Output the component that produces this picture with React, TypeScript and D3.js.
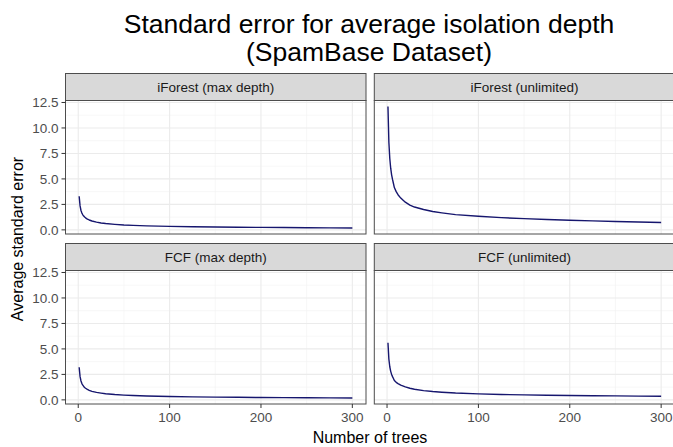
import React from "react";
import * as d3 from "d3";

const trees = [1, 2, 3, 4, 5, 6, 7, 8, 10, 12, 15, 20, 25, 30, 40, 50, 60, 75, 100, 125, 150, 175, 200, 225, 250, 275, 300];
const iforestMax = [3.3, 2.35, 1.9, 1.65, 1.48, 1.35, 1.26, 1.18, 1.06, 0.97, 0.87, 0.76, 0.68, 0.62, 0.54, 0.48, 0.44, 0.39, 0.34, 0.3, 0.28, 0.26, 0.24, 0.23, 0.21, 0.2, 0.19];
const iforestUnl = [12.1, 8.6, 7.0, 6.05, 5.4, 4.95, 4.55, 4.15, 3.75, 3.45, 3.12, 2.72, 2.43, 2.24, 2.0, 1.8, 1.67, 1.5, 1.33, 1.2, 1.1, 1.02, 0.95, 0.88, 0.82, 0.77, 0.72];
const fcfMax = [3.2, 2.28, 1.85, 1.6, 1.44, 1.32, 1.22, 1.14, 1.03, 0.94, 0.84, 0.73, 0.66, 0.6, 0.52, 0.47, 0.43, 0.38, 0.33, 0.29, 0.27, 0.25, 0.23, 0.22, 0.21, 0.2, 0.19];
const fcfUnl = [5.6, 4.0, 3.25, 2.8, 2.5, 2.28, 2.1, 1.9, 1.72, 1.6, 1.45, 1.27, 1.14, 1.04, 0.91, 0.82, 0.75, 0.67, 0.59, 0.53, 0.49, 0.46, 0.43, 0.41, 0.39, 0.37, 0.36];
const panelTitles = ["iForest (max depth)", "iForest (unlimited)", "FCF (max depth)", "FCF (unlimited)"];
const seriesList = [iforestMax, iforestUnl, fcfMax, fcfUnl];
const yTicks = [0, 2.5, 5, 7.5, 10, 12.5];
const yMinor = [1.25, 3.75, 6.25, 8.75, 11.25];
const xTicks = [0, 100, 200, 300];
const xMinor = [50, 150, 250];

const W = 673, H = 447;
const colX = [65.5, 374.3];
const panelW = 300.5;
const rowStripTop = [73.5, 243.5];
const stripH = 27;
const panelH = 133.5;

const FONT = "'Liberation Sans', Arial, Helvetica, sans-serif";

export default function App() {
  const allVals = seriesList.flat();
  const yMin = d3.min(allVals)!, yMax = d3.max(allVals)!;
  const yR = yMax - yMin;
  const xMin = d3.min(trees)!, xMax = d3.max(trees)!;
  const xR = xMax - xMin;

  const panels = seriesList.map((vals, i) => {
    const col = i % 2, row = Math.floor(i / 2);
    const x0 = colX[col];
    const stripTop = rowStripTop[row];
    const pTop = stripTop + stripH;
    const x = d3.scaleLinear().domain([xMin - 0.05 * xR, xMax + 0.05 * xR]).range([x0, x0 + panelW]);
    const y = d3.scaleLinear().domain([yMin - 0.05 * yR, yMax + 0.05 * yR]).range([pTop + panelH, pTop]);
    const line = d3.line<number>().x((_, j) => x(trees[j])).y((d) => y(d));
    return { i, col, row, x0, stripTop, pTop, x, y, path: line(vals)! };
  });

  return (
    <svg width={W} height={H} style={{ position: "absolute", left: 0, top: 0, background: "#fff" }} fontFamily={FONT}>
      <rect width={W} height={H} fill="#fff" />
      <text x={369} y={33} textAnchor="middle" fontSize={26.5} fill="#000">Standard error for average isolation depth</text>
      <text x={369} y={61} textAnchor="middle" fontSize={26.5} fill="#000">(SpamBase Dataset)</text>
      {panels.map((p) => (
        <g key={p.i}>
          <rect x={p.x0} y={p.pTop} width={panelW} height={panelH} fill="#fff" />
          {yMinor.map((t) => (
            <line key={"ym" + t} x1={p.x0} x2={p.x0 + panelW} y1={p.y(t)} y2={p.y(t)} stroke="#F2F2F2" strokeWidth={0.6} />
          ))}
          {xMinor.map((t) => (
            <line key={"xm" + t} y1={p.pTop} y2={p.pTop + panelH} x1={p.x(t)} x2={p.x(t)} stroke="#F2F2F2" strokeWidth={0.6} />
          ))}
          {yTicks.map((t) => (
            <line key={"yM" + t} x1={p.x0} x2={p.x0 + panelW} y1={p.y(t)} y2={p.y(t)} stroke="#EBEBEB" strokeWidth={1.1} />
          ))}
          {xTicks.map((t) => (
            <line key={"xM" + t} y1={p.pTop} y2={p.pTop + panelH} x1={p.x(t)} x2={p.x(t)} stroke="#EBEBEB" strokeWidth={1.1} />
          ))}
          <path d={p.path} fill="none" stroke="#16166e" strokeWidth={1.4} strokeLinejoin="round" />
          <rect x={p.x0} y={p.pTop} width={panelW} height={panelH} fill="none" stroke="#4d4d4d" strokeWidth={1} />
          <rect x={p.x0} y={p.stripTop} width={panelW} height={stripH} fill="#D9D9D9" stroke="#4d4d4d" strokeWidth={1} />
          <text x={p.x0 + panelW / 2} y={p.stripTop + stripH / 2} dy="0.36em" textAnchor="middle" fontSize={13.5} fill="#1A1A1A">{panelTitles[p.i]}</text>
          {p.col === 0 && yTicks.map((t) => (
            <g key={"yt" + t}>
              <line x1={p.x0 - 4} x2={p.x0} y1={p.y(t)} y2={p.y(t)} stroke="#333" strokeWidth={1} />
              <text x={p.x0 - 7} y={p.y(t)} dy="0.36em" textAnchor="end" fontSize={13.5} fill="#4D4D4D">{t.toFixed(1)}</text>
            </g>
          ))}
          {p.row === 1 && xTicks.map((t) => (
            <g key={"xt" + t}>
              <line x1={p.x(t)} x2={p.x(t)} y1={p.pTop + panelH} y2={p.pTop + panelH + 4} stroke="#333" strokeWidth={1} />
              <text x={p.x(t)} y={422} textAnchor="middle" fontSize={13.5} fill="#4D4D4D">{t}</text>
            </g>
          ))}
        </g>
      ))}
      <text x={370} y={443} textAnchor="middle" fontSize={16} fill="#000">Number of trees</text>
      <text transform="translate(23,239) rotate(-90)" textAnchor="middle" fontSize={16} fill="#000">Average standard error</text>
    </svg>
  );
}
